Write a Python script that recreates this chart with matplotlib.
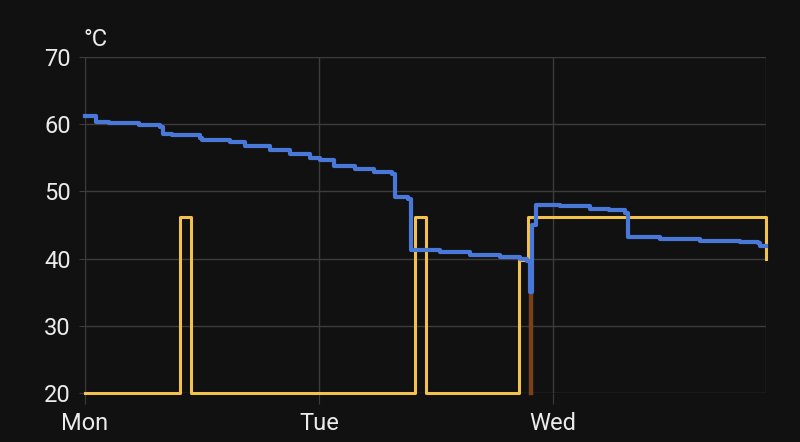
import matplotlib.pyplot as plt

plt.rcParams['font.family'] = ['Roboto', 'DejaVu Sans']

# hours since Monday 00:00
water_t = [0, 1.0, 1.1, 2.5, 5.6, 7.7, 8.0, 8.9, 11.8, 12.0, 14.9, 16.4, 19.0, 21.0,
           23.1, 24.1, 25.6, 27.7, 29.7, 31.5, 31.8, 33.1, 33.4, 36.4, 39.5, 42.6,
           44.6, 45.3, 45.6, 45.9, 46.3, 48.7, 51.8, 53.8, 55.4, 55.7, 59.0, 63.1,
           67.2, 69.0, 69.2, 69.85]
water_temp = [61.2, 61.2, 60.4, 60.2, 59.9, 59.6, 58.6, 58.4, 58.0, 57.6, 57.3, 56.8,
              56.2, 55.6, 55.0, 54.7, 53.8, 53.3, 52.9, 52.6, 49.2, 48.8, 41.3, 41.0,
              40.6, 40.3, 40.0, 39.7, 35.0, 45.0, 48.0, 47.8, 47.4, 47.2, 46.8, 43.2,
              42.9, 42.6, 42.4, 42.3, 41.9, 41.8]

target_t = [0, 9.74, 9.74, 10.87, 10.87, 33.85, 33.85, 34.97, 34.97, 44.5, 44.5,
            45.4, 45.4, 69.5, 69.85, 69.85]
target_temp = [20, 20, 46.2, 46.2, 20, 20, 46.2, 46.2, 20, 20, 39.8,
               39.8, 46.2, 46.2, 46.2, 40]

heat_t = [45.75, 45.75]
heat_temp = [20, 34.7]

x_ticks = [0, 24, 48]
x_labels = ['Mon', 'Tue', 'Wed']
y_ticks = [20, 30, 40, 50, 60, 70]

bg = '#111111'
grid_c = '#3c3c3c'
text_c = '#ebebeb'

fig = plt.figure(figsize=(8, 4.42), dpi=100, facecolor=bg)
ax = fig.add_axes([0.106, 0.111, 0.8515, 0.760], facecolor=bg)

ax.plot(heat_t, heat_temp, color='#7a3f1c', lw=3.2, clip_on=False, zorder=2)
ax.plot(target_t, target_temp, color='#f3c14e', lw=2.2, clip_on=False, zorder=3)
ax.plot(water_t, water_temp, color='#4a78d8', lw=3.0, drawstyle='steps-post',
        clip_on=False, zorder=4)

ax.set_xlim(0, 69.85)
ax.set_ylim(20, 70)
ax.set_xticks(x_ticks)
ax.set_xticklabels(x_labels)
ax.set_yticks(y_ticks)
ax.grid(True, color=grid_c, lw=1, zorder=0)
ax.axvline(69.85, color=grid_c, lw=1, zorder=0)
for s in ax.spines.values():
    s.set_visible(False)
ax.tick_params(axis='x', colors=grid_c, labelcolor=text_c, labelsize=17, length=8, pad=6)
ax.tick_params(axis='y', colors=grid_c, labelcolor=text_c, labelsize=17, length=4, pad=6)

fig.text(0.104, 0.91, '°C', color=text_c, fontsize=17, va='center', ha='left')

fig.savefig('out.png', dpi=100, facecolor=bg)
